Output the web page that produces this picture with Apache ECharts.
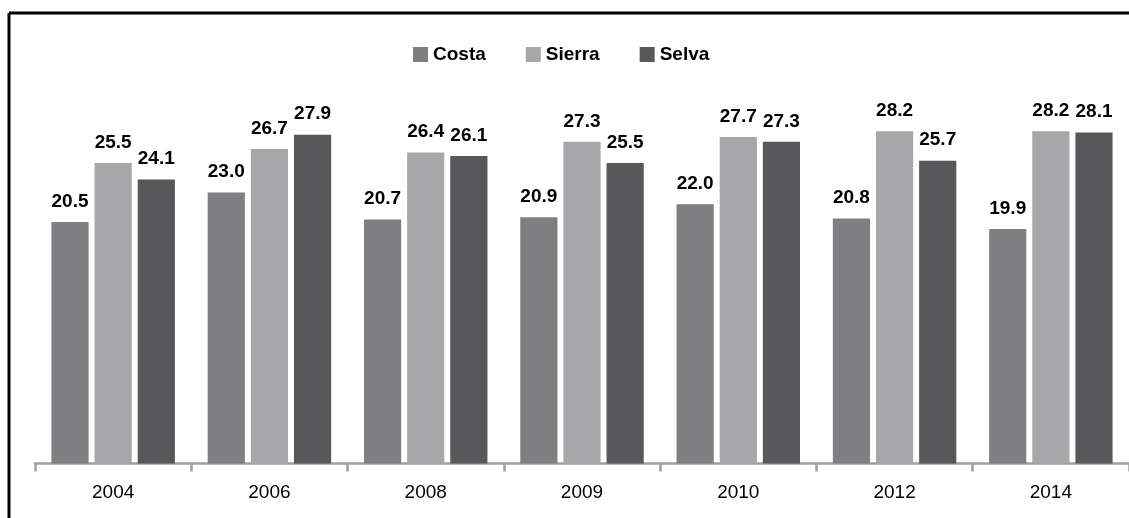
<!DOCTYPE html>
<html><head><meta charset="utf-8">
<script src="https://cdn.jsdelivr.net/npm/echarts@6/dist/echarts.min.js"></script>
<style>html,body{margin:0;padding:0;background:#fff}#c{width:1129px;height:518px}</style>
</head><body><div id="c"></div>
<script>
const categories = ['2004','2006','2008','2009','2010','2012','2014'];
const costa  = [20.5, 23.0, 20.7, 20.9, 22.0, 20.8, 19.9];
const sierra = [25.5, 26.7, 26.4, 27.3, 27.7, 28.2, 28.2];
const selva  = [24.1, 27.9, 26.1, 25.5, 27.3, 25.7, 28.1];
const seriesNames = ['Costa','Sierra','Selva'];
const colors = ['#7f7f82','#a7a7aa','#58585a'];
const FONT = '"Liberation Sans Narrow", "Arial Narrow", "Liberation Sans", Arial, sans-serif';

const chart = echarts.init(document.getElementById('c'));
const lbl = {show:true, position:'top', distance:11, fontFamily:FONT, fontWeight:'bold', fontSize:19, color:'#000',
  formatter: p => p.value.toFixed(1)};
chart.setOption({
  animation:false,
  backgroundColor:'#fff',
  legend:{top:40, left:408, itemWidth:15, itemHeight:15, itemGap:40, icon:'rect',
    textStyle:{fontFamily:FONT, fontWeight:'bold', fontSize:19, color:'#000'}},
  grid:{left:35, right:-2, top:110, bottom:54.5},
  xAxis:{type:'category', data:categories,
    axisLine:{lineStyle:{color:'#a0a0a0', width:2.5}},
    axisTick:{show:true, length:8, lineStyle:{color:'#a0a0a0', width:2.5}},
    axisLabel:{fontFamily:FONT, fontSize:19, color:'#000', margin:20}},
  yAxis:{type:'value', min:0, max:30, show:false, splitLine:{show:false}},
  series:[costa, sierra, selva].map((d,i)=>({
    name:seriesNames[i], type:'bar', data:d, barGap:'16%', barCategoryGap:'21%',
    itemStyle:{color:colors[i]}, label:lbl
  })),
  graphic:[
    {type:'line', shape:{x1:9, y1:13, x2:1129, y2:13}, style:{stroke:'#000', lineWidth:3}},
    {type:'line', shape:{x1:9, y1:13, x2:9, y2:518}, style:{stroke:'#000', lineWidth:3}}
  ]
});
</script></body></html>
